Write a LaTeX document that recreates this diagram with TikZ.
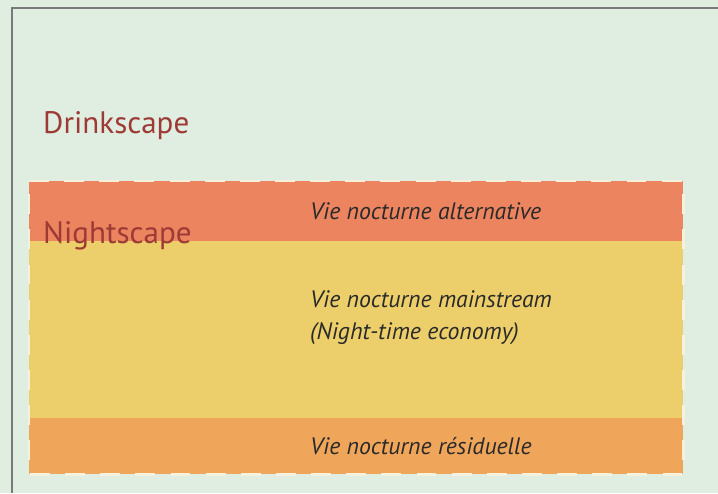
\documentclass[tikz,border=0pt]{standalone}
\usepackage{fontspec}
\setmainfont{PT Sans}
\definecolor{bgcol}{HTML}{E0EEE2}
\definecolor{framecol}{HTML}{7A7A7A}
\definecolor{altcol}{HTML}{EC8460}
\definecolor{maincol}{HTML}{ECCF6A}
\definecolor{rescol}{HTML}{F0A65A}
\definecolor{dashcol}{HTML}{F6F1DD}
\definecolor{scapecol}{HTML}{9E3A35}
\definecolor{txtcol}{HTML}{2A2A2A}
\tikzset{
    band/.style={draw=none, inner sep=0pt, minimum width=19.62cm, anchor=north west},
    scape/.style={text=scapecol, anchor=base west, inner sep=0pt, font=\fontsize{26.5}{30}\selectfont},
    vie/.style={text=txtcol, anchor=base west, inner sep=0pt, align=left, font=\itshape\fontsize{20.3}{27}\selectfont}
}
\begin{document}
\begin{tikzpicture}[x=0.03cm, y=-0.03cm]
    \useasboundingbox (0,0) rectangle (718,493);
    % background and frame
    \fill[bgcol] (0,0) rectangle (718,493);
    \draw[framecol, line width=1.2pt] (12,493) -- (12,8) -- (718,8);

    % bands
    \node[band, fill=altcol, minimum height=1.8cm] (alt) at (29,181) {};
    \node[band, fill=maincol, minimum height=5.31cm] (main) at (29,241) {};
    \node[band, fill=rescol, minimum height=1.68cm] (res) at (29,418) {};

    % dashed outline
    \draw[dashcol, line width=2.2pt, dash pattern=on 17pt off 13pt]
        (alt.north west) -- (alt.north east) -- (res.south east) -- (res.south west) -- cycle;

    % labels
    \node[scape] (drink) at (43,133) {Drinkscape};
    \node[scape] (night) at (43,243) {Nightscape};
    \node[vie] (altlbl) at (310,219) {Vie nocturne alternative};
    \node[vie] (mainlbl) at (310,307) {Vie nocturne mainstream};
    \node[vie] (ntelbl) at (310,339) {(Night-time economy)};
    \node[vie] (reslbl) at (310,454) {Vie nocturne résiduelle};
\end{tikzpicture}
\end{document}
